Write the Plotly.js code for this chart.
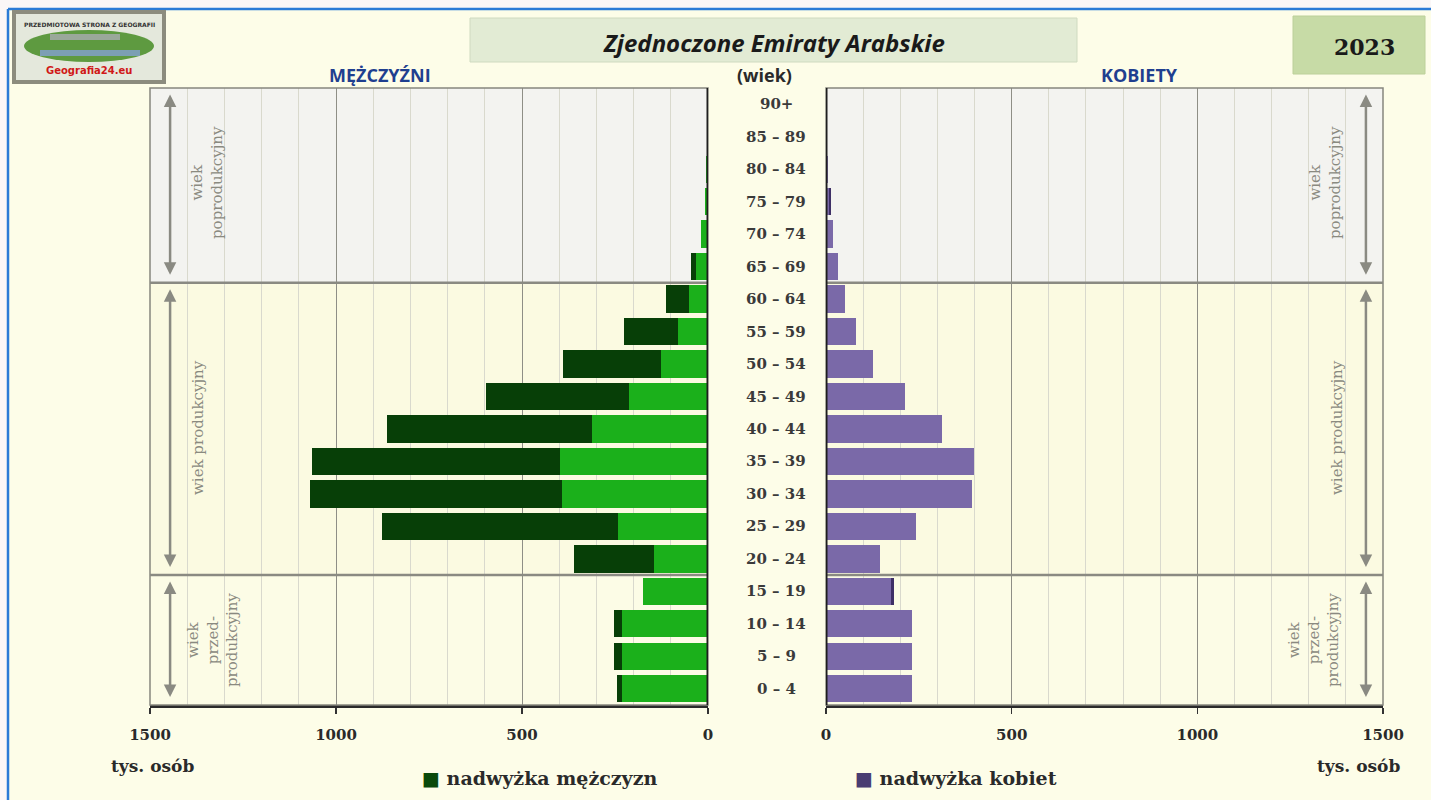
<!DOCTYPE html>
<html><head><meta charset="utf-8">
<script src="https://cdn.plot.ly/plotly-3.0.1.min.js"></script>
<style>html,body{margin:0;padding:0;background:#fdfde8;}#chart{width:1431px;height:800px;}</style>
</head><body><div id="chart"></div>
<script>
// ---- data (thousands of people) ----
const ageGroups = ['0 – 4','5 – 9','10 – 14','15 – 19','20 – 24','25 – 29','30 – 34','35 – 39','40 – 44','45 – 49','50 – 54','55 – 59','60 – 64','65 – 69','70 – 74','75 – 79','80 – 84','85 – 89','90+'];
const males   = [245, 252, 252, 175, 360, 876, 1070, 1065, 863, 597, 390, 226, 113, 46, 19, 8, 6, 2, 1];
const females = [232, 232, 232, 183, 145, 242, 393, 399, 312, 213, 127, 81, 51, 31, 20, 14, 6, 3, 1];
const tickVals = [0, 500, 1000, 1500];
const tickText = ['0', '500', '1000', '1500'];
const titleText = 'Zjednoczone Emiraty Arabskie';
const yearText = '2023';

const maleBase = males.map((v,i)=>Math.min(v, females[i]));
const maleSurplus = males.map((v,i)=>Math.max(v - females[i], 0));
const femaleBase = females.map((v,i)=>Math.min(v, males[i]));
const femaleSurplus = females.map((v,i)=>Math.max(v - males[i], 0));

const W = 1431, H = 800;
const px = x => x / W, py = y => 1 - y / H;

const traces = [
  {type:'bar', orientation:'h', x:maleBase, y:ageGroups, xaxis:'x', yaxis:'y', marker:{color:'#1bb01b', line:{width:0}}, hoverinfo:'x+y', showlegend:false},
  {type:'bar', orientation:'h', x:maleSurplus, y:ageGroups, xaxis:'x', yaxis:'y', marker:{color:'#073f07', line:{width:0}}, hoverinfo:'x+y', showlegend:false},
  {type:'bar', orientation:'h', x:femaleBase, y:ageGroups, xaxis:'x2', yaxis:'y', marker:{color:'#7a69a8', line:{width:0}}, hoverinfo:'x+y', showlegend:false},
  {type:'bar', orientation:'h', x:femaleSurplus, y:ageGroups, xaxis:'x2', yaxis:'y', marker:{color:'#3e2f66', line:{width:0}}, hoverinfo:'x+y', showlegend:false}
];

const tickFont = {family:'DejaVu Serif', size:15, color:'#2a2a2a', weight:'bold'};
const axBase = {
  tickvals:tickVals, ticktext:tickText, tickfont:tickFont,
  ticks:'outside', ticklen:6, tickcolor:'#333', tickwidth:1.5,
  ticklabelstandoff:8,
  showgrid:true, gridcolor:'#8e8e86', gridwidth:1,
  minor:{dtick:100, showgrid:true, gridcolor:'#d9d9cd', gridwidth:1, ticks:''},
  zeroline:false, showline:true, linecolor:'#2b2b2b', linewidth:3,
  anchor:'y', fixedrange:true
};

const shapes = [];
shapes.push({type:'rect', xref:'paper', yref:'paper', x0:0, x1:1, y0:py(8), y1:1, fillcolor:'#fbf7f7', line:{width:0}, layer:'below'});
shapes.push({type:'rect', xref:'paper', yref:'paper', x0:0, x1:px(8), y0:0, y1:1, fillcolor:'#fbf7f7', line:{width:0}, layer:'below'});
shapes.push({type:'line', xref:'paper', yref:'paper', x0:px(8), x1:1, y0:py(9), y1:py(9), line:{color:'#2b7bd6', width:2.5}});
shapes.push({type:'line', xref:'paper', yref:'paper', x0:px(8), x1:px(8), y0:py(9), y1:0, line:{color:'#2b7bd6', width:2.5}});

['x','x2'].forEach(ax=>{
  shapes.push({type:'rect', xref:ax+' domain', yref:'y', x0:0, x1:1, y0:12.5, y1:18.5, fillcolor:'#f3f3f0', line:{width:0}, layer:'below'});
  shapes.push({type:'rect', xref:ax+' domain', yref:'y', x0:0, x1:1, y0:3.5, y1:12.5, fillcolor:'#fbfae1', line:{width:0}, layer:'below'});
  shapes.push({type:'rect', xref:ax+' domain', yref:'y', x0:0, x1:1, y0:-0.5, y1:3.5, fillcolor:'#fcfce6', line:{width:0}, layer:'below'});
  shapes.push({type:'rect', xref:ax+' domain', yref:'y domain', x0:0, x1:1, y0:0, y1:1, line:{color:'#86867e', width:1.5}, fillcolor:'rgba(0,0,0,0)'});
  [12.5, 3.5].forEach(v=>shapes.push({type:'line', xref:ax+' domain', yref:'y', x0:0, x1:1, y0:v, y1:v, line:{color:'#8a8a82', width:2.5}}));
});
shapes.push({type:'line', xref:'x', yref:'y domain', x0:0, x1:0, y0:0, y1:1, line:{color:'#1e1e1e', width:3}});
shapes.push({type:'line', xref:'x2', yref:'y domain', x0:0, x1:0, y0:0, y1:1, line:{color:'#1e1e1e', width:3}});

shapes.push({type:'rect', xref:'paper', yref:'paper', x0:px(470), x1:px(1077), y0:py(62), y1:py(18), fillcolor:'#e2ebd4', line:{color:'#cfdac0', width:1}});
shapes.push({type:'rect', xref:'paper', yref:'paper', x0:px(1293), x1:px(1425), y0:py(74), y1:py(16), fillcolor:'#c7dba6', line:{color:'#bcd09a', width:1}});

shapes.push({type:'rect', xref:'paper', yref:'paper', x0:px(12), x1:px(166), y0:py(84), y1:py(10), fillcolor:'#8c8c7e', line:{width:0}});
shapes.push({type:'rect', xref:'paper', yref:'paper', x0:px(16), x1:px(162), y0:py(80), y1:py(14), fillcolor:'#e4e8dc', line:{width:0}});
shapes.push({type:'circle', xref:'paper', yref:'paper', x0:px(24), x1:px(154), y0:py(62), y1:py(30), fillcolor:'#5e9a40', line:{width:0}});
shapes.push({type:'rect', xref:'paper', yref:'paper', x0:px(40), x1:px(140), y0:py(56), y1:py(50), fillcolor:'#7c9fb4', line:{width:0}});
shapes.push({type:'rect', xref:'paper', yref:'paper', x0:px(50), x1:px(120), y0:py(40), y1:py(34), fillcolor:'#9aa89a', line:{width:0}});

const annotations = [];
ageGroups.forEach((a,i)=>annotations.push({xref:'paper', yref:'y', x:px(776), y:a, text:a, showarrow:false, xanchor:'center',
  font:{family:'DejaVu Serif', size:15, color:'#3a3a3a', weight:'bold'}}));

const txt = (x, y, text, font, extra) => annotations.push(Object.assign({xref:'paper', yref:'paper', x:px(x), y:py(y), text:text, showarrow:false, font:font, xanchor:'center', yanchor:'middle'}, extra||{}));
const sansB = (s,c)=>({family:'Open Sans', size:s, color:c, weight:'bold'});
txt(774, 43, '<i>'+titleText+'</i>', {family:'Open Sans', size:24, color:'#1a1a1a', weight:'bold'});
txt(1364, 47, yearText, {family:'DejaVu Serif', size:22, color:'#1a1a1a', weight:'bold'});
txt(380, 75, 'MĘŻCZYŹNI', sansB(18,'#1f3f8f'));
txt(1139, 75, 'KOBIETY', sansB(18,'#1f3f8f'));
txt(764, 75, '(wiek)', sansB(18,'#2a2a2a'));
const serifB = {family:'DejaVu Serif', size:17, color:'#2a2a2a', weight:'bold'};
txt(152, 766, 'tys. osób', serifB);
txt(1358, 766, 'tys. osób', serifB);
const legFont = {family:'DejaVu Serif', size:19, color:'#2a2a2a', weight:'bold'};
txt(420, 778, '<span style="color:#0a4a0a">■</span> nadwyżka mężczyzn', legFont, {xanchor:'left'});
txt(853, 778, '<span style="color:#4a3d72">■</span> nadwyżka kobiet', legFont, {xanchor:'left'});

txt(89, 24, 'PRZEDMIOTOWA STRONA Z GEOGRAFII', {family:'DejaVu Sans', size:6, color:'#333', weight:'bold'});
txt(89, 70, 'Geografia24.eu', {family:'DejaVu Sans', size:10, color:'#d01818', weight:'bold'});

const arrowSpans = [[18.3,12.7],[12.3,3.7],[3.3,-0.3]];
[['x',1446],['x2',1454]].forEach(([ax,xv])=>{
  arrowSpans.forEach(([a,b])=>annotations.push({xref:ax, yref:'y', x:xv, y:a, axref:ax, ayref:'y', ax:xv, ay:b, text:'',
    showarrow:true, arrowhead:2, startarrowhead:2, arrowside:'end+start', arrowsize:1, startarrowsize:1, arrowwidth:2.5, arrowcolor:'#8a8a82'}));
});
const regFont = {family:'DejaVu Serif', size:15, color:'#8a8a80'};
const regLabels = [
  [207, 183, 'wiek<br>poprodukcyjny'],
  [198, 428, 'wiek produkcyjny'],
  [212, 640, 'wiek<br>przed-<br>produkcyjny'],
  [1325, 183, 'wiek<br>poprodukcyjny'],
  [1337, 428, 'wiek produkcyjny'],
  [1313, 640, 'wiek<br>przed-<br>produkcyjny']
];
regLabels.forEach(([x,y,t])=>txt(x, y, t, regFont, {textangle:-90}));

const layout = {
  width:W, height:H,
  margin:{l:0, r:0, t:0, b:0},
  paper_bgcolor:'#fdfde8', plot_bgcolor:'rgba(0,0,0,0)',
  barmode:'stack', bargap:0.16,
  showlegend:false,
  xaxis:Object.assign({}, axBase, {domain:[px(150), px(708)], range:[1500, 0]}),
  xaxis2:Object.assign({}, axBase, {domain:[px(826), px(1383)], range:[0, 1500]}),
  yaxis:{domain:[py(705), py(88)], type:'category', categoryorder:'array', categoryarray:ageGroups, range:[-0.5, 18.5],
    showticklabels:false, showgrid:false, zeroline:false, showline:false, ticks:'', fixedrange:true},
  shapes:shapes, annotations:annotations
};

Plotly.newPlot('chart', traces, layout, {displayModeBar:false, staticPlot:true});
</script></body></html>
